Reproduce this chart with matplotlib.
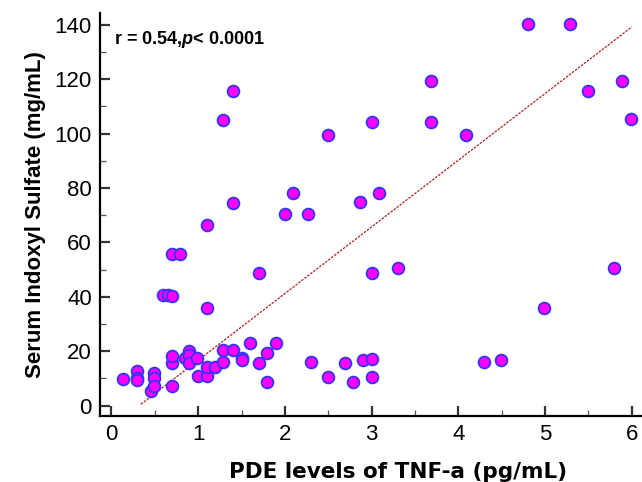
import matplotlib
matplotlib.use('Agg')
import matplotlib.pyplot as plt
from matplotlib.ticker import MultipleLocator
import numpy as np

plt.rcParams['font.family'] = ['Liberation Sans', 'DejaVu Sans']
plt.rcParams['mathtext.fontset'] = 'custom'
plt.rcParams['mathtext.it'] = 'Liberation Sans:italic:bold'

# PDE levels of TNF-a (pg/mL)
tnf = [0.13, 0.30, 0.30, 0.30, 0.46, 0.49, 0.49, 0.49, 0.70, 0.70,
       0.70, 0.59, 0.65, 0.70, 0.70, 0.79, 0.85, 0.89, 0.89, 0.89,
       0.99, 1.00, 1.10, 1.10, 1.19, 1.29, 1.29, 1.40, 1.50, 1.50,
       1.60, 1.70, 1.79, 1.79, 1.90, 1.10, 1.70, 2.30, 2.50, 2.69,
       2.79, 2.90, 3.00, 3.00, 1.40, 1.10, 1.40, 1.29, 3.69, 3.00,
       3.69, 4.09, 2.50, 2.09, 2.00, 2.27, 2.87, 3.09, 3.00, 3.30,
       4.80, 5.29, 5.50, 5.89, 5.99, 5.79, 4.99, 4.29, 4.49]
# serum indoxyl sulfate (mg/mL)
ins = [9.8, 12.8, 10.3, 9.3, 5.5, 12.1, 10.3, 7.2, 7.2, 15.6,
       18.4, 40.6, 40.6, 40.3, 55.6, 55.6, 17.6, 20.2, 18.5, 15.6,
       17.6, 10.9, 10.9, 14.3, 14.3, 16.0, 20.4, 20.4, 17.6, 16.8,
       22.9, 15.6, 19.2, 8.6, 22.9, 35.8, 48.6, 15.9, 10.5, 15.6,
       8.6, 16.8, 17.1, 10.5, 74.5, 66.3, 115.5, 105.1, 119.2, 104.3,
       104.3, 99.4, 99.4, 78.0, 70.5, 70.5, 74.7, 78.0, 48.7, 50.7,
       140.4, 140.4, 115.5, 119.3, 105.2, 50.7, 35.8, 16.0, 16.8]

# regression line as drawn in the picture
fit_slope = 24.5
fit_intercept = -7.8
fit_x = [0.34, 6.0]

fig = plt.figure(figsize=(6.42, 4.82), dpi=100)
ax = fig.add_axes([0.156, 0.1375, 0.843, 0.835])

ax.scatter(tnf, ins, s=72, c='#FF00FF', edgecolors='#3535F0', linewidths=1.3, zorder=3)

fx = np.array(fit_x)
ax.plot(fx, fit_slope * fx + fit_intercept, color='#B22222', linestyle=(0, (2, 1)), linewidth=0.9, zorder=2)

ax.set_xlim(-0.13, 6.11)
ax.set_ylim(-3.7, 144.2)
ax.xaxis.set_major_locator(MultipleLocator(1))
ax.xaxis.set_minor_locator(MultipleLocator(0.5))
ax.yaxis.set_major_locator(MultipleLocator(20))
ax.yaxis.set_minor_locator(MultipleLocator(10))

for s in ['top', 'right']:
    ax.spines[s].set_visible(False)
for s in ['left', 'bottom']:
    ax.spines[s].set_linewidth(1.6)

ax.tick_params(which='major', direction='in', length=7.5, width=1.6, color='#333333', labelsize=16, pad=6)
ax.tick_params(which='minor', direction='in', length=4.5, width=0.9, color='#555555')

ax.set_xlabel('PDE levels of TNF-a (pg/mL)', fontsize=15.5, fontweight='bold',
              family=['DejaVu Sans'])
ax.xaxis.set_label_coords(0.55, -0.115)
ax.set_ylabel('Serum Indoxyl Sulfate (mg/mL)', fontsize=16, fontweight='bold', labelpad=6)

ax.text(0.025, 0.935, r'r = 0.54,$p$< 0.0001', transform=ax.transAxes,
        fontsize=13, fontweight='bold', va='center', ha='left')

fig.savefig('out.png', dpi=100)
